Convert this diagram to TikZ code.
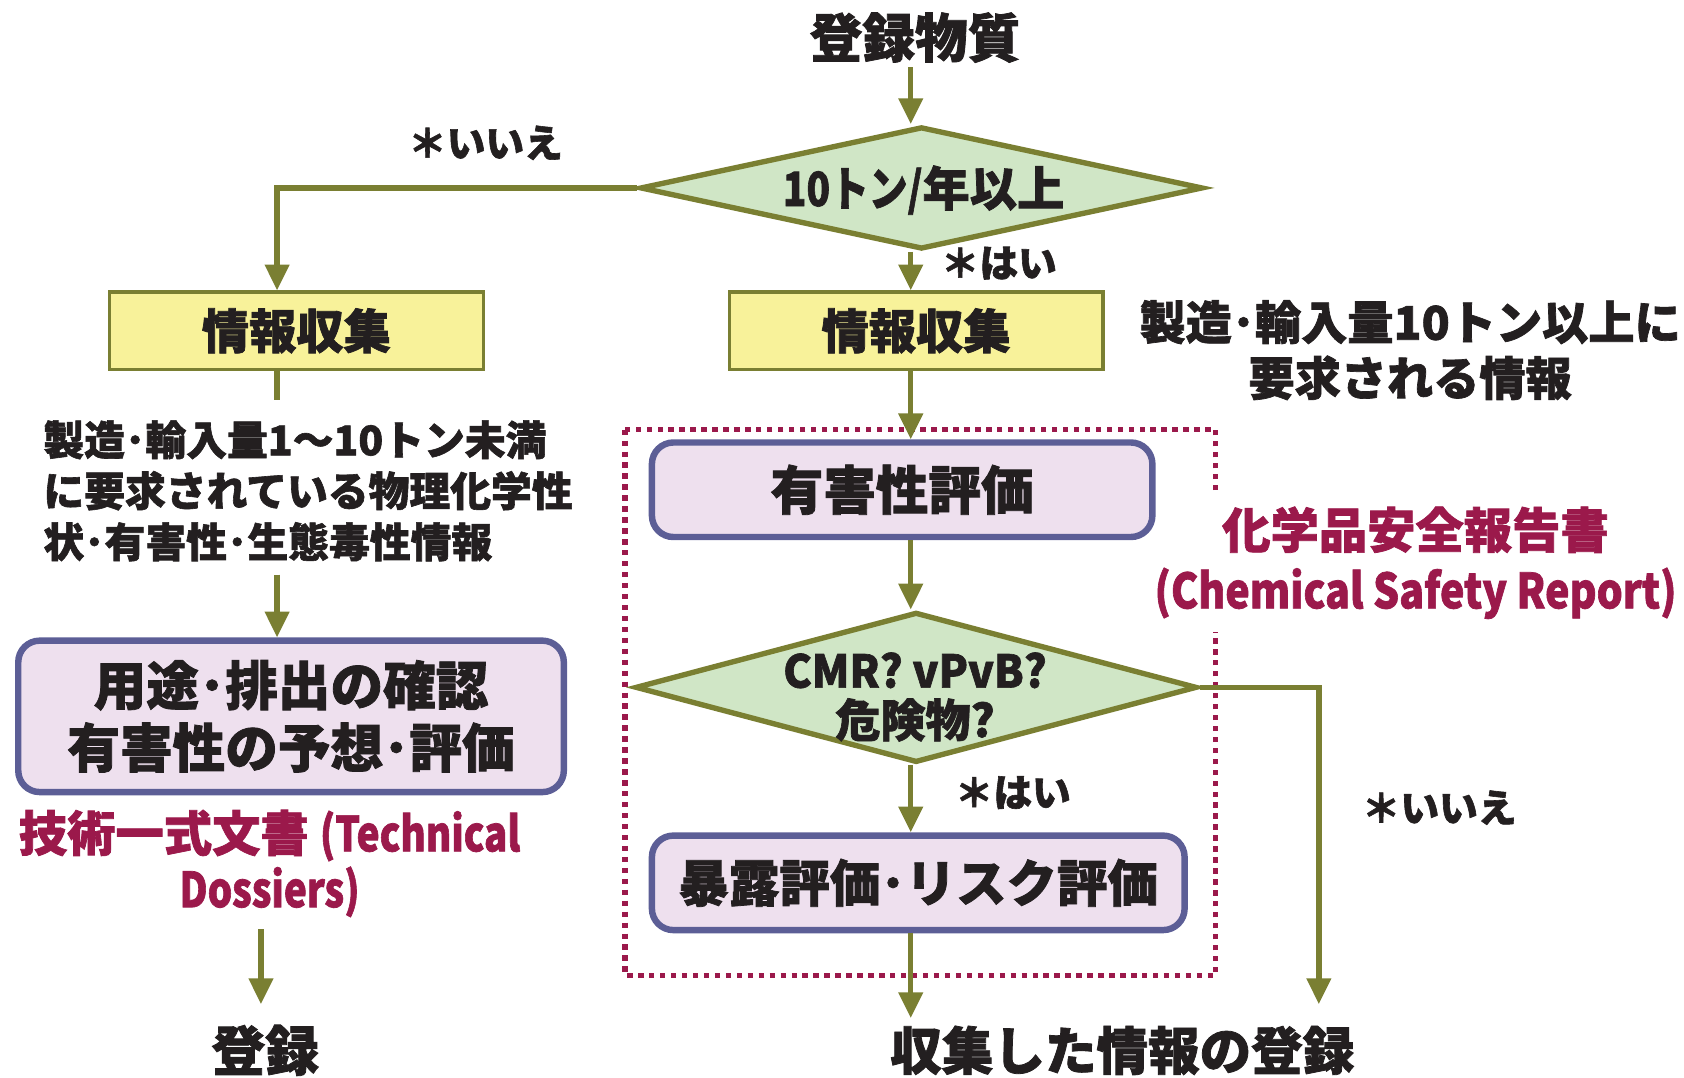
\documentclass[tikz,border=0pt]{standalone}
\usepackage{fontspec}
\usepackage{graphicx}
\setmainfont{Noto Sans CJK JP}[BoldFeatures={FakeBold=1.5}]
\usetikzlibrary{shapes.geometric,arrows.meta}
\definecolor{lineol}{RGB}{122,127,50}
\definecolor{diafill}{RGB}{208,230,198}
\definecolor{yfill}{RGB}{248,242,154}
\definecolor{pfill}{RGB}{238,224,238}
\definecolor{pborder}{RGB}{92,94,150}
\definecolor{crim}{RGB}{155,25,75}
\definecolor{txtc}{RGB}{35,31,32}
\newcommand\cond[1]{\scalebox{0.82}[1]{#1}}
\newcommand\fs[2]{\fontsize{#1}{#2}\selectfont\bfseries}
\tikzset{
  conn/.style={draw=lineol, line width=2.5pt},
  arr/.style={conn, -{Triangle[width=11pt,length=12pt]}},
  dia/.style={diamond, draw=lineol, fill=diafill, line width=2.5pt, inner sep=0pt},
  ybox/.style={rectangle, draw=lineol, fill=yfill, line width=1.6pt,
    minimum width=174pt, minimum height=36pt, text=txtc, font=\fs{22}{26}},
  pbox/.style={rectangle, rounded corners=10pt, draw=pborder, fill=pfill, line width=3pt, text=txtc, align=center},
  txt/.style={text=txtc, inner sep=2pt},
  red/.style={text=crim, align=center},
  lbl/.style={txt, font=\fs{18}{22}},
}
\begin{document}
\begin{tikzpicture}[x=0.5pt,y=-0.5pt]
\useasboundingbox (0,0) rectangle (1568,1003);
% dotted frame
\draw[crim, line width=2.4pt, dash pattern=on 2.5pt off 2.6pt] (582,400) rectangle (1132,908);
\node[red, fill=white, inner sep=6pt, font=\fs{22.5}{28}] (csr) at (1318,524) {化学品安全報告書\\\scalebox{0.85}[1]{(Chemical Safety Report)}};
% top
\node[txt, font=\fs{24.5}{28}] (src) at (852,35) {登録物質};
\node[dia, minimum width=262pt, minimum height=57pt] (d1) at (858,175) {};
\node[txt, font=\fs{22}{26}] (d1t) at (860,177) {\cond{10トン/}年以上};
\node[ybox] (lbox) at (276,308) {情報収集};
\node[ybox] (rbox) at (853,308) {情報収集};
\coordinate (lcol) at (258,0);
\coordinate (mcol) at (848,0);
\node[lbl] (no1) at (452,133) {＊いいえ};
\node[lbl] (yes1) at (930,245) {＊はい};
\node[txt, align=center, font=\fs{21.5}{26}] (rinfo) at (1313,326) {製造･輸入量10トン以上に\\要求される情報};
% left column
\node[txt, anchor=west, align=left, font=\fs{19}{23.75}] (ltext) at (36,457) {製造･輸入量1～10トン未満\\に要求されている物理化学性\\状･有害性･生態毒性情報};
\node[pbox, minimum width=254pt, minimum height=70.5pt, font=\fs{24.5}{29}] (lpbox) at (271,667) {用途･排出の確認\\有害性の予想･評価};
\node[red, font=\fs{22.5}{26}] (tech) at (251,804) {技術一式文書 \scalebox{0.8}[1]{(Technical}\\\scalebox{0.8}[1]{Dossiers)}};
\node[txt, font=\fs{25}{28}] (lreg) at (247,978) {登録};
\coordinate (lg1) at (258,372);
\coordinate (lg2) at (258,535);
\coordinate (lt1) at (243,865);
\coordinate (lt2) at (243,935);
% right column
\node[pbox, minimum width=233pt, minimum height=44pt, font=\fs{24.5}{28}] (hbox) at (840,456) {有害性評価};
\node[dia, minimum width=261.5pt, minimum height=70pt] (d2) at (853,640) {};
\node[txt, align=center, font=\fs{21}{23}] (d2t) at (852,649) {\scalebox{0.95}[1]{CMR? vPvB?}\\危険物?};
\node[lbl] (yes2) at (943,738) {＊はい};
\node[pbox, minimum width=248pt, minimum height=44pt, font=\fs{23.5}{27}] (ebox) at (855,822) {暴露評価･リスク評価};
\node[txt, font=\fs{24}{28}] (rreg) at (1045,978) {収集した情報の登録};
\node[lbl] (no2) at (1340,752) {＊いいえ};
\coordinate (rc) at (1228,0);
\coordinate (rend) at (1228,935);
\coordinate (mend) at (848,948);
% connectors
\draw[arr] (src.south -| mcol) -- (mcol |- d1.north);
\draw[arr] (d1.west) -| (lcol |- lbox.north);
\draw[arr] (mcol |- d1.south) -- (mcol |- rbox.north);
\draw[conn] (lcol |- lbox.south) -- (lg1);
\draw[arr] (lg2) -- (lcol |- lpbox.north);
\draw[arr] (lt1) -- (lt2);
\draw[arr] (mcol |- rbox.south) -- (mcol |- hbox.north);
\draw[arr] (mcol |- hbox.south) -- (mcol |- d2.north);
\draw[arr] (mcol |- d2.south) -- (mcol |- ebox.north);
\draw[arr] (mcol |- ebox.south) -- (mend);
\draw[arr] (d2.east) -| (rend);
\end{tikzpicture}
\end{document}
